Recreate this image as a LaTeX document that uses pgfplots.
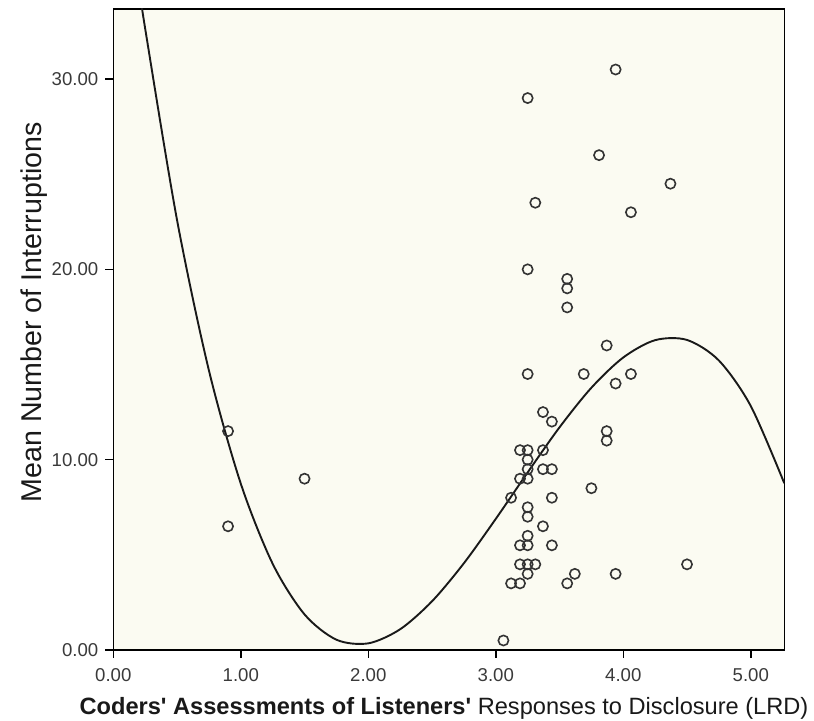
\documentclass[border=0pt]{standalone}
\usepackage{fontspec}
\setmainfont{Liberation Sans}
\usepackage{pgfplots}
\pgfplotsset{compat=1.18}
\definecolor{plotbg}{HTML}{FBFBF2}
\definecolor{ticktext}{HTML}{3A3A3A}

\begin{document}
\begin{tikzpicture}
\begin{axis}[
  scale only axis,
  width=335.5pt,height=320.5pt,
  xmin=0,xmax=5.263,ymin=0,ymax=33.68,
  axis background/.style={fill=plotbg},
  axis line style={black,line width=0.75pt},
  xtick={0,1,2,3,4,5},ytick={0,10,20,30},
  tick align=outside,major tick length=4pt,
  tick style={black,line width=0.75pt},
  xtick pos=bottom,ytick pos=left,
  /pgf/number format/.cd,fixed,fixed zerofill,precision=2,assume math mode=true,
  /pgfplots/.cd,
  tick label style={font=\fontsize{9.3}{11}\selectfont,text=ticktext},
  xticklabel style={yshift=-1.5pt},
  xlabel={\textbf{Coders\textquotesingle{} Assessments of Listeners\textquotesingle} Responses to Disclosure (LRD)},
  ylabel={Mean Number of Interruptions},
  xlabel style={font=\fontsize{11.8}{13}\selectfont,text=black!90,
    at={(axis description cs:0.5,0)},anchor=center,yshift=-29pt,xshift=-2.4pt},
  ylabel style={font=\fontsize{14.3}{16}\selectfont,text=black!90,
    at={(axis description cs:0,0.527)},anchor=center,yshift=39.6pt},
]
% cubic fit line
\addplot[black!90,line width=0.95pt,smooth] coordinates {
 (0.20,34.93) (0.25,32.65) (0.50,22.59) (0.75,14.69) (1.00,8.74)
 (1.25,4.53) (1.50,1.87) (1.75,0.54) (2.00,0.35) (2.25,1.09)
 (2.50,2.56) (2.75,4.56) (3.00,6.89) (3.25,9.33) (3.50,11.70)
 (3.75,13.78) (4.00,15.37) (4.25,16.28) (4.50,16.29) (4.75,15.21)
 (5.00,12.82) (5.263,8.76)};
% observations
\addplot[only marks,mark=o,mark size=2.55pt,mark options={line width=0.8pt,draw=black!80}] coordinates {
 (0.90,11.5) (0.90,6.5) (1.50,9.0) (3.06,0.5)
 (3.94,30.5) (3.25,29.0) (3.81,26.0) (4.37,24.5) (3.31,23.5) (4.06,23.0)
 (3.25,20.0) (3.56,19.5) (3.56,19.0) (3.56,18.0) (3.87,16.0)
 (3.25,14.5) (3.69,14.5) (4.06,14.5) (3.94,14.0)
 (3.37,12.5) (3.44,12.0) (3.87,11.5) (3.87,11.0)
 (3.19,10.5) (3.25,10.5) (3.37,10.5) (3.25,10.0)
 (3.25,9.5) (3.37,9.5) (3.44,9.5) (3.19,9.0) (3.25,9.0)
 (3.75,8.5) (3.12,8.0) (3.44,8.0) (3.25,7.5) (3.25,7.0)
 (3.37,6.5) (3.25,6.0) (3.19,5.5) (3.25,5.5) (3.44,5.5)
 (4.50,4.5) (3.19,4.5) (3.25,4.5) (3.31,4.5)
 (3.25,4.0) (3.62,4.0) (3.94,4.0)
 (3.12,3.5) (3.19,3.5) (3.56,3.5)};
\coordinate (lo) at (rel axis cs:0,0);
\coordinate (hi) at (rel axis cs:1,1);
\end{axis}
\path (lo) ++(-56.65pt,-35.5pt) coordinate (bbA);
\path (hi) ++(14.85pt,4.5pt) coordinate (bbB);
\pgfresetboundingbox
\path[use as bounding box] (bbA) rectangle (bbB);
\end{tikzpicture}
\end{document}
